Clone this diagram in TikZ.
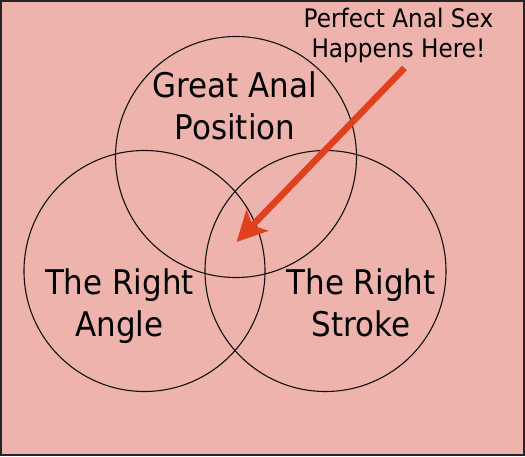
\documentclass[tikz,border=0pt]{standalone}
\usepackage{fontspec}
\setmainfont[FakeStretch=0.91]{DejaVu Sans}
\usetikzlibrary{arrows.meta}
\definecolor{panelpink}{HTML}{EFB3AD}
\definecolor{arrowred}{HTML}{E0401E}
\definecolor{linecol}{HTML}{111111}
\tikzset{
  % one set of the venn diagram
  venncircle/.style={circle, draw=linecol, line width=1.1pt,
                     inner sep=0pt, minimum size=241pt},
  % big label inside a set
  setlabel/.style={align=center, inner sep=0pt, text=black,
                   font=\fontsize{34}{42}\selectfont},
  % callout text, top right
  notelabel/.style={align=center, inner sep=0pt, text=black,
                    font=\fontsize{25.5}{30}\selectfont},
  calloutarrow/.style={draw=arrowred, line width=6.5pt,
                       -{Stealth[length=30pt, width=30pt, inset=7pt]}},
}
\begin{document}
\begin{tikzpicture}[x=1pt, y=-1pt]
  % canvas
  \useasboundingbox (0,0) rectangle (525,456);
  \draw[fill=panelpink, draw=black!85, line width=1.6pt]
    (0.8,0.8) rectangle (524.2,455.2);
  % the three sets
  \node[venncircle] (position) at (236,157) {};
  \node[venncircle] (angle)    at (144.5,271) {};
  \node[venncircle] (stroke)   at (325.5,271) {};
  % set labels (base = last line)
  \node[setlabel, anchor=base] (positiontext) at (235,139)  {Great Anal\\Position};
  \node[setlabel, anchor=base] (angletext)    at (119.5,336) {The Right\\Angle};
  \node[setlabel, anchor=base] (stroketext)   at (361,336) {The Right\\Stroke};
  % callout
  \node[notelabel, anchor=base] (note) at (398.5,57.3) {Perfect Anal Sex\\Happens Here!};
  \coordinate (arrowstart) at (404.5,68);
  \coordinate (sweetspot)  at (236.5,242);
  \draw[calloutarrow] (arrowstart) -- (sweetspot);
\end{tikzpicture}
\end{document}
